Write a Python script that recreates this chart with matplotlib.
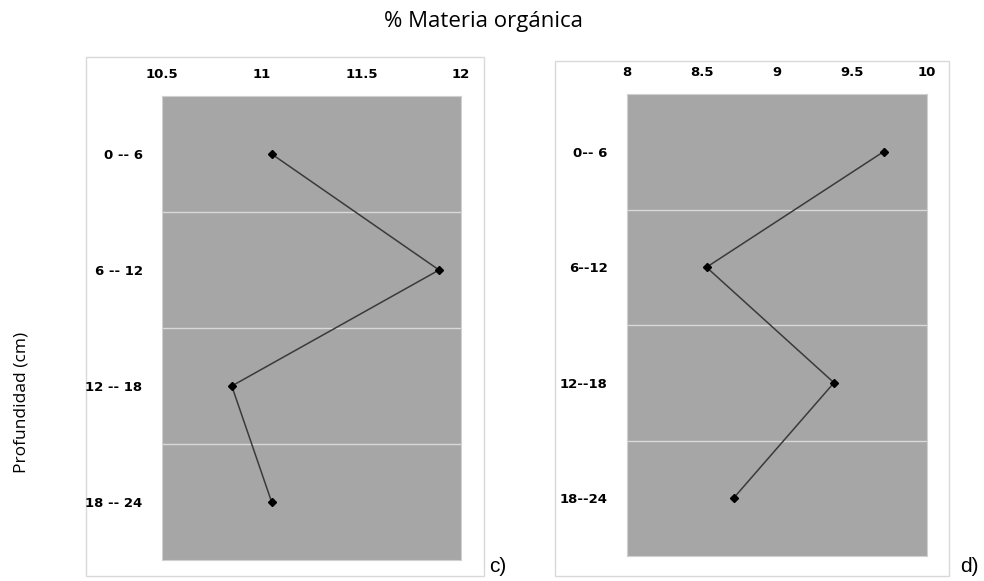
import matplotlib
matplotlib.use("Agg")
import matplotlib.pyplot as plt
from matplotlib.patches import Rectangle

depths_c = ["0 -- 6", "6 -- 12", "12 -- 18", "18 -- 24"]
depths_d = ["0-- 6", "6--12", "12--18", "18--24"]
mo_c = [11.05, 11.89, 10.85, 11.05]
mo_d = [9.71, 8.53, 9.38, 8.71]
xticks_c = [10.5, 11, 11.5, 12]
xticks_d = [8, 8.5, 9, 9.5, 10]
xticklabels_c = ["10.5", "11", "11.5", "12"]
xticklabels_d = ["8", "8.5", "9", "9.5", "10"]

W, H = 984, 581
fig = plt.figure(figsize=(W / 100, H / 100), dpi=100)
fig.patch.set_facecolor("white")

def px(x0, y0, x1, y1):
    return [x0 / W, 1 - y1 / H, (x1 - x0) / W, (y1 - y0) / H]

# outer chart boxes
for (x0, y0, x1, y1) in [(86, 57, 484, 576), (555, 61, 949, 576)]:
    fig.patches.append(Rectangle((x0 / W, 1 - y1 / H), (x1 - x0) / W, (y1 - y0) / H,
                                 transform=fig.transFigure, facecolor="none",
                                 edgecolor="#d9d9d9", linewidth=1.0, zorder=-5))

tickfont = dict(family="DejaVu Sans", weight="bold", size=9.5)

def panel(rect, vals, labels, xticks, xticklabels, xlim):
    ax = fig.add_axes(rect)
    ax.set_zorder(2)
    ax.set_facecolor("#a6a6a6")
    ypos = list(range(len(vals)))
    for b in [0.5, 1.5, 2.5]:
        ax.axhline(b, color="#d9d9d9", lw=1.0, zorder=1)
    ax.plot(vals, ypos, color="#3a3a3a", lw=1.1, marker="D", markersize=4,
            markerfacecolor="black", markeredgecolor="black", zorder=3)
    ax.set_xlim(*xlim)
    ax.set_ylim(3.5, -0.5)
    ax.xaxis.tick_top()
    ax.set_xticks(xticks)
    ax.set_xticklabels(xticklabels, fontdict=tickfont)
    ax.set_yticks(ypos)
    ax.set_yticklabels(labels, fontdict=tickfont)
    ax.tick_params(axis="x", length=0, pad=11)
    ax.tick_params(axis="y", length=0, pad=14)
    for s in ax.spines.values():
        s.set_color("#d0d0d0")
        s.set_linewidth(0.8)
    return ax

panel(px(162, 96, 461, 560), mo_c, depths_c, xticks_c, xticklabels_c, (10.5, 12))
panel(px(627, 94, 927, 556), mo_d, depths_d, xticks_d, xticklabels_d, (8, 10))

fig.text(484 / W, 1 - 22 / H, "% Materia orgánica", ha="center", va="center",
         fontsize=16, family="Open Sans")
fig.text(22 / W, 1 - 402 / H, "Profundidad (cm)", ha="center", va="center",
         rotation=90, fontsize=12.5, family="Open Sans")
fig.text(498 / W, 1 - 567 / H, "c)", ha="center", va="center", fontsize=15,
         family="Liberation Sans")
fig.text(969 / W, 1 - 567 / H, "d)", ha="center", va="center", fontsize=15,
         family="Liberation Sans")

fig.savefig("out.png", dpi=100)
